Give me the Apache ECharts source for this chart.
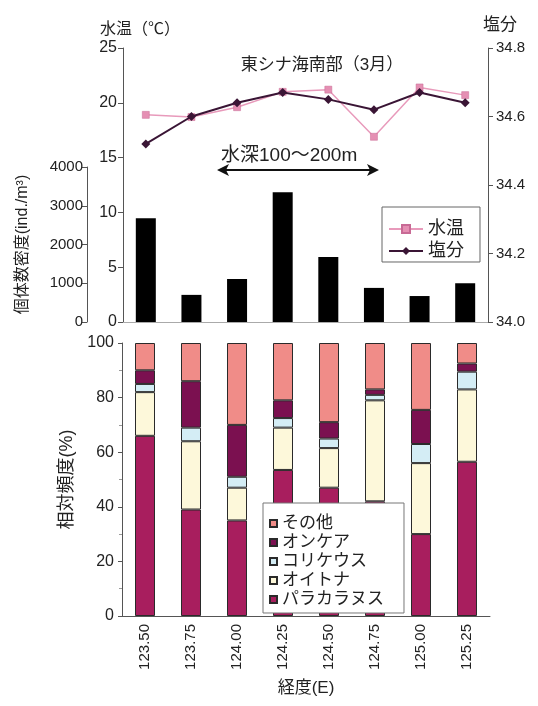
<!DOCTYPE html>
<html>
<head>
<meta charset="utf-8">
<script src="https://cdn.jsdelivr.net/npm/echarts@6/dist/echarts.min.js"></script>
<style>
  html, body { margin: 0; padding: 0; background: #fff; }
  #chart { width: 538px; height: 706px; }
</style>
</head>
<body>
<div id="chart"></div>
<script>
// Stations by longitude (E)
const longitudes = ['123.50', '123.75', '124.00', '124.25', '124.50', '124.75', '125.00', '125.25'];

// Surface conditions
const waterTemp = [18.9, 18.7, 19.6, 21.0, 21.2, 16.9, 21.4, 20.7];          // °C
const salinity = [34.52, 34.60, 34.64, 34.67, 34.65, 34.62, 34.67, 34.64];
// Individual density (ind./m³)
const density = [2680, 700, 1110, 3350, 1680, 880, 670, 1000];

// Relative frequency (%) by genus, stacked bottom to top
const paracalanus = [66, 39, 35, 53.5, 47, 42, 30, 56.5];
const oithona = [16, 25, 12, 15.5, 14.5, 37, 26, 26.5];
const corycaeus = [3, 5, 4, 3.5, 3.5, 2, 7, 6.5];
const oncaea = [5, 17, 19, 6.5, 6, 2, 12.5, 3];
const others = [10, 14, 30, 21, 29, 17, 24.5, 7.5];

const tempTicks = [0, 25, 5];
const salTicks = [34.0, 34.8, 0.2];
const densTicks = [0, 4000, 1000];
const freqTicks = [0, 100, 20];

const FONT = "'Liberation Sans', 'Noto Sans CJK JP', sans-serif";
const TXT = '#222';
const AX = '#555';

const chart = echarts.init(document.getElementById('chart'), null, { renderer: 'canvas' });

const baseLabel = { color: TXT, fontSize: 16, fontFamily: FONT };
const stackBar = (name, data, color) => ({
  name, type: 'bar', stack: 'freq', data,
  xAxisIndex: 2, yAxisIndex: 3, barWidth: 20,
  itemStyle: { color, borderColor: '#2a2a2a', borderWidth: 1 }
});

const option = {
  backgroundColor: '#fff',
  animation: false,
  textStyle: { fontFamily: FONT },
  title: {
    text: '東シナ海南部（3月）',
    left: 317, top: 52, textAlign: 'center',
    textStyle: { fontSize: 17, fontWeight: 'normal', color: TXT, fontFamily: FONT }
  },
  legend: [
    {
      data: ['水温', '塩分'],
      orient: 'vertical', left: 382, top: 207,
      itemWidth: 34, itemHeight: 10, itemGap: 4,
      padding: [13, 16, 2, 6],
      borderColor: '#666', borderWidth: 1, backgroundColor: '#fff',
      textStyle: { fontSize: 18, color: TXT, fontFamily: FONT }
    },
    {
      data: ['その他', 'オンケア', 'コリケウス', 'オイトナ', 'パラカラヌス'],
      orient: 'vertical', left: 263, top: 503,
      itemWidth: 7, itemHeight: 7, itemGap: 2,
      padding: [12, 20, 5, 6],
      icon: 'rect',
      borderColor: '#777', borderWidth: 1, backgroundColor: '#fff',
      textStyle: { fontSize: 17, color: TXT, fontFamily: FONT }
    }
  ],
  grid: [
    { left: 123, right: 50, top: 48, height: 274 },
    { left: 123, right: 50, top: 167, height: 155 },
    { left: 122, right: 48, top: 343, height: 273 }
  ],
  xAxis: [
    { type: 'category', gridIndex: 0, data: longitudes, show: false },
    {
      type: 'category', gridIndex: 1, data: longitudes,
      axisLine: { lineStyle: { color: '#aaa' } },
      axisTick: { inside: true, length: 4, lineStyle: { color: '#888' } },
      axisLabel: { show: false }
    },
    {
      type: 'category', gridIndex: 2, data: longitudes,
      name: '経度(E)', nameLocation: 'middle', nameGap: 64,
      nameTextStyle: { fontSize: 17, color: TXT, fontFamily: FONT },
      axisLine: { lineStyle: { color: AX } },
      axisTick: { inside: true, length: 4, lineStyle: { color: '#888' } },
      axisLabel: { rotate: 90, fontSize: 15, color: TXT, fontFamily: FONT, margin: 8 }
    }
  ],
  yAxis: [
    {
      type: 'value', gridIndex: 0, position: 'left',
      min: tempTicks[0], max: tempTicks[1], interval: tempTicks[2],
      name: '水温（℃）', nameGap: 10,
      nameTextStyle: { fontSize: 16, color: TXT, fontFamily: FONT, align: 'left', padding: [0, 0, 0, -23] },
      axisLine: { show: true, lineStyle: { color: AX } },
      axisTick: { show: true, length: 5, lineStyle: { color: AX } },
      axisLabel: Object.assign({ margin: 6 }, baseLabel),
      splitLine: { show: false }
    },
    {
      type: 'value', gridIndex: 1, position: 'left', offset: 36,
      min: densTicks[0], max: densTicks[1], interval: densTicks[2],
      name: '個体数密度(ind./m³)', nameLocation: 'middle', nameGap: 56, nameRotate: 90,
      nameTextStyle: { fontSize: 16, color: TXT, fontFamily: FONT },
      axisLine: { show: true, lineStyle: { color: AX } },
      axisTick: { show: true, length: 5, lineStyle: { color: AX } },
      axisLabel: Object.assign({ margin: 4, formatter: v => String(v) }, baseLabel, { fontSize: 15 }),
      splitLine: { show: false }
    },
    {
      type: 'value', gridIndex: 0, position: 'right',
      min: salTicks[0], max: salTicks[1], interval: salTicks[2],
      name: '塩分', nameGap: 14,
      nameTextStyle: { fontSize: 17, color: TXT, fontFamily: FONT, align: 'left', padding: [0, 0, 0, -5] },
      axisLine: { show: true, lineStyle: { color: AX } },
      axisTick: { show: true, length: 5, lineStyle: { color: AX } },
      axisLabel: Object.assign({ margin: 8, formatter: v => v.toFixed(1) }, baseLabel, { fontSize: 15 }),
      splitLine: { show: false }
    },
    {
      type: 'value', gridIndex: 2,
      min: freqTicks[0], max: freqTicks[1], interval: freqTicks[2],
      name: '相対頻度(%)', nameLocation: 'middle', nameGap: 44, nameRotate: 90,
      nameTextStyle: { fontSize: 18, color: TXT, fontFamily: FONT },
      axisLine: { show: true, lineStyle: { color: AX } },
      axisTick: { show: true, length: 4, lineStyle: { color: AX } },
      minorTick: { show: true, splitNumber: 2, length: 3, lineStyle: { color: '#999' } },
      axisLabel: Object.assign({ margin: 8 }, baseLabel),
      splitLine: { show: false }
    }
  ],
  series: [
    {
      name: '個体数密度', type: 'bar', data: density,
      xAxisIndex: 1, yAxisIndex: 1, barWidth: 20,
      itemStyle: { color: '#000' }
    },
    {
      name: '水温', type: 'line', data: waterTemp,
      xAxisIndex: 0, yAxisIndex: 0, z: 3,
      symbol: 'rect', symbolSize: 7,
      lineStyle: { color: '#e89abb', width: 1.5 },
      itemStyle: { color: '#e58fb3', borderColor: '#c86a95', borderWidth: 0.5 }
    },
    {
      name: '塩分', type: 'line', data: salinity,
      xAxisIndex: 0, yAxisIndex: 2, z: 4,
      symbol: 'diamond', symbolSize: 9,
      lineStyle: { color: '#3a1535', width: 2 },
      itemStyle: { color: '#3a1535' }
    },
    stackBar('パラカラヌス', paracalanus, '#a81e5e'),
    stackBar('オイトナ', oithona, '#fdf8da'),
    stackBar('コリケウス', corycaeus, '#d4edf5'),
    stackBar('オンケア', oncaea, '#7b1050'),
    stackBar('その他', others, '#f08c88')
  ],
  graphic: [
    // depth range annotation: 100–200 m
    {
      type: 'text', left: 221, top: 146,
      style: { text: '水深100～200m', fontSize: 19, fill: TXT, fontFamily: FONT }
    },
    { type: 'line', shape: { x1: 224, y1: 170, x2: 372, y2: 170 }, style: { stroke: '#111', lineWidth: 2 } },
    { type: 'polygon', shape: { points: [[217, 170], [229, 164], [226, 170], [229, 176]] }, style: { fill: '#111' } },
    { type: 'polygon', shape: { points: [[379, 170], [367, 164], [370, 170], [367, 176]] }, style: { fill: '#111' } }
  ]
};

chart.setOption(option);
</script>
</body>
</html>
